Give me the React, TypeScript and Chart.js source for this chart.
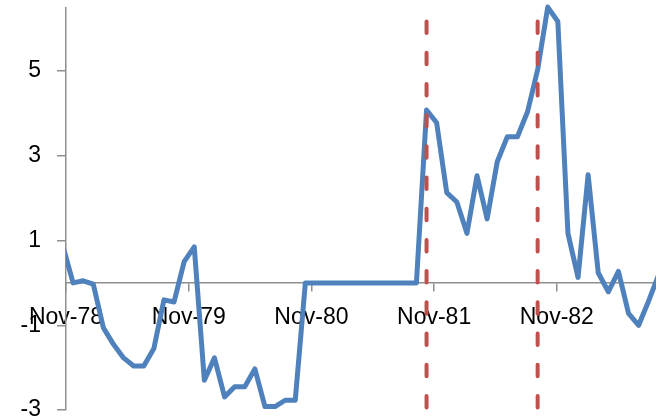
import React, { useEffect, useRef } from "react";
import { Chart, registerables } from "chart.js";

Chart.register(...registerables);

// one value per period; index 0 sits just left of the y axis and gets clipped
const values = [
  0.87, 0.0, 0.05, -0.03, -1.06, -1.45, -1.77, -1.96, -1.96, -1.55,
  -0.4, -0.45, 0.5, 0.85, -2.3, -1.77, -2.69, -2.45, -2.45, -2.03,
  -2.92, -2.92, -2.77, -2.77, 0, 0, 0, 0, 0, 0,
  0, 0, 0, 0, 0, 0, 4.08, 3.78, 2.13, 1.91,
  1.17, 2.53, 1.51, 2.86, 3.45, 3.45, 4.04, 5.03, 6.51, 6.17,
  1.17, 0.13, 2.55, 0.24, -0.21, 0.27, -0.72, -1.0, -0.42, 0.2,
];

// x axis labels and where they fall (in periods)
const xTickLabels = ["Nov-78", "Nov-79", "Nov-80", "Nov-81", "Nov-82"];
const xTickPos = [0.3, 12.45, 24.6, 36.75, 48.9];
const yTicks = [-3, -1, 1, 3, 5];

// dashed markers
const markerAt = [36, 47];
const markerTop = 6.17;
const markerBottom = -3;

const BLUE = "#4F81BD";
const RED = "#C0504D";
const AXIS = "#8E8E8E";
const FONT = { family: "'Liberation Sans', Arial, sans-serif", size: 23 };

const App: React.FC = () => {
  const chartRef = useRef<HTMLCanvasElement | null>(null);

  useEffect(() => {
    if (!chartRef.current) return;
    const ctx = chartRef.current.getContext("2d");
    if (!ctx) return;

    const markers = markerAt.map((x) => ({
      data: [
        { x, y: markerTop },
        { x, y: markerBottom },
      ],
      borderColor: RED,
      borderWidth: 4,
      borderDash: [11.5, 19.7],
      borderCapStyle: "round" as const,
      pointRadius: 0,
      order: 0,
    }));

    const chart = new Chart(ctx, {
      type: "line",
      data: {
        datasets: [
          ...markers,
          {
            data: values.map((y, x) => ({ x, y })),
            borderColor: BLUE,
            borderWidth: 5,
            borderJoinStyle: "round",
            pointRadius: 0,
            tension: 0,
            clip: { left: 0, right: 0, top: 6, bottom: 6 },
            order: 1,
          },
        ],
      },
      options: {
        animation: false,
        responsive: true,
        maintainAspectRatio: false,
        layout: { padding: { top: 7.5, bottom: 10, left: 0, right: 0 } },
        plugins: {
          legend: { display: false },
          tooltip: { enabled: false },
        },
        scales: {
          x: {
            type: "linear",
            position: { y: 0 },
            min: 0.3,
            max: 58.72,
            afterBuildTicks: (axis) => {
              axis.ticks = xTickPos.map((value) => ({ value }));
            },
            afterFit: (axis) => {
              axis.paddingLeft = 0;
              axis.paddingRight = 0;
            },
            ticks: {
              autoSkip: false,
              maxRotation: 0,
              padding: 13,
              color: "#000",
              font: FONT,
              callback: (_v, i) => xTickLabels[i],
            },
            grid: {
              drawOnChartArea: false,
              drawTicks: true,
              tickLength: 8,
              color: AXIS,
              tickColor: AXIS,
              lineWidth: 1.5,
            },
            border: { color: AXIS, width: 1.5 },
          },
          y: {
            type: "linear",
            position: "left",
            min: -3,
            max: 6.5,
            afterBuildTicks: (axis) => {
              axis.ticks = yTicks.map((value) => ({ value }));
            },
            afterFit: (axis) => {
              axis.width = 66;
              axis.paddingTop = 0;
              axis.paddingBottom = 0;
            },
            ticks: {
              padding: 16,
              color: "#000",
              font: FONT,
            },
            grid: {
              drawOnChartArea: false,
              drawTicks: true,
              tickLength: 9,
              color: AXIS,
              tickColor: AXIS,
              lineWidth: 1.5,
            },
            border: { color: AXIS, width: 1.5 },
          },
        },
      },
    });

    return () => {
      chart.destroy();
    };
  }, []);

  return (
    <div
      style={{
        position: "fixed",
        left: 0,
        top: 0,
        width: 656,
        height: 420,
        background: "#fff",
      }}
    >
      <canvas ref={chartRef} />
    </div>
  );
};

export default App;
